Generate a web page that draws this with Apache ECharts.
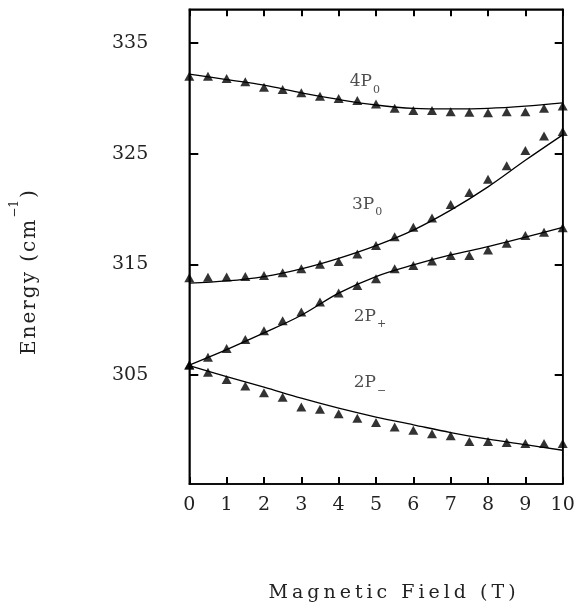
<!DOCTYPE html>
<html>
<head>
<meta charset="utf-8">
<script src="https://cdn.jsdelivr.net/npm/echarts@6/dist/echarts.min.js"></script>
<style>
html,body{margin:0;padding:0;background:#fff;}
#chart{width:584px;height:608px;}
</style>
</head>
<body>
<div id="chart"></div>
<script>
// ---- data ----
const fieldTicks = [0, 1, 2, 3, 4, 5, 6, 7, 8, 9, 10];
const energyTicks = [305, 315, 325, 335];

const markerField = [0, 0.5, 1, 1.5, 2, 2.5, 3, 3.5, 4, 4.5, 5, 5.5, 6, 6.5, 7, 7.5, 8, 8.5, 9, 9.5, 10];
const exp4P0  = [332.0, 332.0, 331.8, 331.5, 331.0, 330.8, 330.5, 330.2, 330.0, 329.8, 329.5, 329.1, 328.9, 328.9, 328.8, 328.75, 328.7, 328.8, 328.8, 329.1, 329.3];
const exp3P0  = [313.8, 313.83, 313.86, 313.9, 314.0, 314.25, 314.6, 315.0, 315.25, 315.94, 316.7, 317.5, 318.35, 319.2, 320.4, 321.5, 322.7, 323.9, 325.3, 326.6, 327.0];
const exp2Pp  = [305.9, 306.6, 307.4, 308.2, 309.0, 309.9, 310.7, 311.6, 312.4, 313.1, 313.7, 314.6, 314.9, 315.3, 315.8, 315.8, 316.3, 316.9, 317.6, 317.9, 318.3];
const exp2Pm  = [305.9, 305.24, 304.6, 304.0, 303.4, 303.0, 302.1, 301.9, 301.5, 301.1, 300.7, 300.3, 300.0, 299.7, 299.5, 299.0, 299.0, 298.9, 298.8, 298.8, 298.8];

const curveField = [0, 1, 2, 3, 4, 5, 6, 7, 8, 9, 10];
const fit4P0 = [332.2, 331.7, 331.2, 330.5, 329.9, 329.4, 329.1, 329.05, 329.1, 329.3, 329.6];
const fit3P0 = [313.3, 313.5, 313.9, 314.6, 315.55, 316.7, 318.1, 319.9, 322.0, 324.4, 326.7];
const fit2Pp = [305.9, 307.3, 308.8, 310.4, 312.4, 313.9, 314.95, 315.85, 316.6, 317.45, 318.35];
const fit2Pm = [305.85, 304.85, 303.9, 302.9, 302.0, 301.2, 300.5, 299.8, 299.2, 298.7, 298.2];

const levelNames = ['4P', '3P', '2P', '2P'];
const levelSubs  = ['0', '0', '+', '\u2212'];
const levelAnchorField  = [4.7, 4.76, 4.84, 4.84];
const levelAnchorEnergy = [331.5, 320.4, 310.3, 304.3];

const xTitle = 'Magnetic Field (T)';
const yTitleMain = 'Energy (cm';
const yTitleSup = '\u22121';
const yTitleEnd = ')';

// ---- helpers ----
const FONT = 'DejaVu Serif';
const INK = '#222';
function spaced(str, style) {
  return str.split('').map(c => '{' + style + '|' + c + '}').join('');
}
function zip(xs, ys) { return xs.map((x, i) => [x, ys[i]]); }
function frameLine() { return {show: true, onZero: false, lineStyle: {color: '#000', width: 1.5}}; }
function ticks(len, custom) {
  return {show: true, inside: true, length: len, customValues: custom,
          lineStyle: {color: '#000', width: 2}};
}

const chart = echarts.init(document.getElementById('chart'), null, {renderer: 'canvas'});

const curves = [fit4P0, fit3P0, fit2Pp, fit2Pm].map((d, i) => ({
  type: 'line', name: 'fit' + i, data: zip(curveField, d), smooth: 0.35,
  showSymbol: false, symbol: 'none', silent: true,
  lineStyle: {color: '#000', width: 1.3}, z: 2
}));
const points = [exp4P0, exp3P0, exp2Pp, exp2Pm].map((d, i) => ({
  type: 'scatter', name: 'exp' + i, data: zip(markerField, d),
  symbol: 'triangle', symbolSize: [10, 9], itemStyle: {color: '#000'}, silent: true, z: 3
}));
const labels = {
  type: 'scatter', name: 'labels', symbolSize: 0, silent: true, z: 4,
  data: levelNames.map((n, i) => ({value: [levelAnchorField[i], levelAnchorEnergy[i]], name: n})),
  label: {
    show: true, position: 'inside',
    formatter: p => '{m|' + levelNames[p.dataIndex] + '}{s|' + levelSubs[p.dataIndex] + '}',
    rich: {
      m: {fontFamily: FONT, fontSize: 17, color: INK, lineHeight: 27, verticalAlign: 'middle', padding: [0, 1, 0, 0]},
      s: {fontFamily: FONT, fontSize: 11, color: INK, lineHeight: 13, verticalAlign: 'bottom'}
    }
  }
};

const option = {
  animation: false,
  backgroundColor: '#fff',
  grid: {left: 189.3, right: 21.3, top: 9.3, bottom: 124, containLabel: false,
         show: true, borderColor: '#000', borderWidth: 1.5, backgroundColor: 'transparent'},
  xAxis: [
    {
      type: 'value', gridIndex: 0, min: 0, max: 10, interval: 1, position: 'bottom', z: 5,
      axisLine: frameLine(),
      axisTick: ticks(7, fieldTicks),
      axisLabel: {margin: 12, fontFamily: FONT, fontSize: 19, color: INK, customValues: fieldTicks},
      splitLine: {show: false},
      name: spaced(xTitle, 'c'), nameLocation: 'middle', nameGap: 100,
      nameTextStyle: {padding: [0, 0, 0, 32], rich: {c: {fontFamily: FONT, fontSize: 19, color: INK, padding: [0, 2, 0, 2]}}}
    },
    {
      type: 'value', gridIndex: 0, min: 0, max: 10, interval: 1, position: 'top', z: 5,
      axisLine: frameLine(),
      axisTick: ticks(7, fieldTicks),
      axisLabel: {show: false}, splitLine: {show: false}
    }
  ],
  yAxis: [
    {
      type: 'value', gridIndex: 0, min: 295.15, max: 338.05, position: 'left', z: 5,
      axisLine: frameLine(),
      axisTick: ticks(9, energyTicks),
      axisLabel: {margin: 41, fontFamily: FONT, fontSize: 19, color: INK, customValues: energyTicks},
      splitLine: {show: false},
      name: spaced(yTitleMain, 'c') + '{sup|' + yTitleSup + '}' + '{c|' + yTitleEnd + '}',
      nameLocation: 'middle', nameGap: 150, nameRotate: 90,
      nameTextStyle: {padding: [0, 52, 0, 0], rich: {
        c: {fontFamily: FONT, fontSize: 20, color: INK, padding: [0, 1, 0, 1], lineHeight: 30, verticalAlign: 'bottom'},
        sup: {fontFamily: FONT, fontSize: 12, color: INK, lineHeight: 14, verticalAlign: 'top', padding: [0, 1, 0, 1]}
      }}
    },
    {
      type: 'value', gridIndex: 0, min: 295.15, max: 338.05, position: 'right', z: 5,
      axisLine: frameLine(),
      axisTick: ticks(8, energyTicks),
      axisLabel: {show: false}, splitLine: {show: false}
    }
  ],
  series: [...curves, ...points, labels]
};
chart.setOption(option);
</script>
</body>
</html>
